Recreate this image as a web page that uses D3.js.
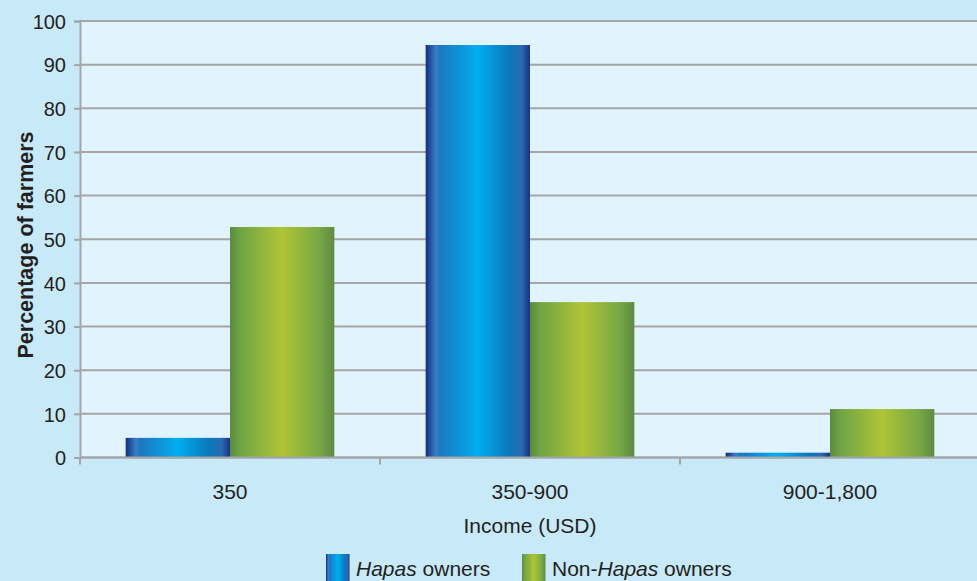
<!DOCTYPE html>
<html><head><meta charset="utf-8">
<script src="https://cdn.jsdelivr.net/npm/d3@7"></script>
<style>body{margin:0;background:#c8e9f8;}svg{display:block;font-family:"Liberation Sans",Arial,sans-serif;}</style>
</head><body>
<svg id="c" width="977" height="581"></svg>
<script>
const categories = ["350", "350-900", "900-1,800"];
const seriesNames = ["Hapas owners", "Non-Hapas owners"];
const hapasOwners = [4.5, 94.5, 1.1];
const nonHapasOwners = [52.8, 35.6, 11.1];
const yTicks = [0,10,20,30,40,50,60,70,80,90,100];

(function(){
const svg = d3.select("#c");
const W = 977, H = 581;
const mLeft = 80, mRight = 980, mTop = 21, mBottom = 457.5;
const FONT = "Liberation Sans, Arial, sans-serif";
const TXT = "#231f20";

svg.append("rect").attr("width", W).attr("height", H).attr("fill", "#c8e9f8");

const defs = svg.append("defs");
function grad(id, stops){
  const g = defs.append("linearGradient").attr("id", id).attr("x1","0%").attr("x2","100%").attr("y1","0%").attr("y2","0%");
  stops.forEach(s => g.append("stop").attr("offset", s[0]).attr("stop-color", s[1]));
}
grad("gBlue", [["0%","#1c2a7a"],["4%","#1f4fa0"],["10%","#3a7fc2"],["14%","#1b78c0"],["50%","#00aeef"],["80%","#0a78bd"],["92%","#2a6ab0"],["100%","#1c2f86"]]);
grad("gGreen", [["0%","#5c8a3e"],["10%","#6ea445"],["50%","#b0c436"],["85%","#78a843"],["100%","#5e8a44"]]);

const x0 = d3.scaleBand().domain(categories).range([mLeft, mRight]).paddingInner(0).paddingOuter(0);
const x1 = d3.scaleBand().domain(seriesNames).range([0, x0.bandwidth()]).paddingInner(0).paddingOuter(0.4375);
const y = d3.scaleLinear().domain([0, 100]).range([mBottom, mTop]);

svg.append("rect").attr("x", mLeft).attr("y", mTop).attr("width", mRight-mLeft).attr("height", mBottom-mTop).attr("fill", "#e1f3fc");

svg.append("g").selectAll("line").data(yTicks).join("line")
  .attr("x1", mLeft).attr("x2", mRight).attr("y1", d=>y(d)).attr("y2", d=>y(d))
  .attr("stroke", "#a3a5a8").attr("stroke-width", 2);

const series = [hapasOwners, nonHapasOwners];
const fills = ["url(#gBlue)", "url(#gGreen)"];
series.forEach((vals, si) => {
  svg.append("g").selectAll("rect").data(vals).join("rect")
    .attr("x", (d,i) => x0(categories[i]) + x1(seriesNames[si]))
    .attr("width", x1.bandwidth())
    .attr("y", d => y(d))
    .attr("height", d => y(0) - y(d))
    .attr("fill", fills[si]);
});

const yAxis = d3.axisLeft(y).tickValues(yTicks).tickSize(6).tickPadding(8);
const gy = svg.append("g").attr("transform", `translate(${mLeft},0)`).call(yAxis);
gy.attr("font-family", FONT).attr("font-size", 20);
gy.select(".domain").attr("stroke", "#a3a5a8").attr("stroke-width", 2);
gy.selectAll(".tick line").attr("stroke", "#a3a5a8").attr("stroke-width", 2);
gy.selectAll(".tick text").attr("fill", TXT).attr("dy", "0.36em");

const xAxis = d3.axisBottom(x0).tickSize(0).tickPadding(26.9);
const gx = svg.append("g").attr("transform", `translate(0,${mBottom})`).call(xAxis);
gx.attr("font-family", FONT).attr("font-size", 21);
gx.select(".domain").remove();
gx.selectAll(".tick text").attr("fill", TXT);
const bounds = categories.map(c => x0(c)).concat([x0(categories[categories.length-1]) + x0.bandwidth()]);
svg.append("g").selectAll("line").data(bounds).join("line")
  .attr("x1", d=>d).attr("x2", d=>d).attr("y1", mBottom).attr("y2", mBottom+7)
  .attr("stroke", "#a3a5a8").attr("stroke-width", 2);
svg.append("line").attr("x1", mLeft).attr("x2", mRight).attr("y1", mBottom).attr("y2", mBottom)
  .attr("stroke", "#a3a5a8").attr("stroke-width", 2);

svg.append("text").attr("x", 530).attr("y", 533).attr("text-anchor", "middle")
  .attr("font-family", FONT).attr("font-size", 21).attr("fill", TXT).text("Income (USD)");
svg.append("text").attr("transform", "translate(32.5,245) rotate(-90)").attr("text-anchor", "middle")
  .attr("font-family", FONT).attr("font-size", 21.5).attr("font-weight", "bold").attr("fill", TXT).text("Percentage of farmers");

const legend = svg.append("g");
const items = [
  {x: 326, fill: "url(#gBlue)", parts: [["Hapas", true], [" owners", false]]},
  {x: 522, fill: "url(#gGreen)", parts: [["Non-", false], ["Hapas", true], [" owners", false]]}
];
items.forEach(it => {
  legend.append("rect").attr("x", it.x).attr("y", 554).attr("width", 23.5).attr("height", 30).attr("fill", it.fill);
  const t = legend.append("text").attr("x", it.x + 30).attr("y", 576).attr("font-family", FONT).attr("font-size", 21).attr("fill", TXT);
  it.parts.forEach(p => t.append("tspan").attr("font-style", p[1] ? "italic" : "normal").text(p[0]));
});
})();
</script>
</body></html>
